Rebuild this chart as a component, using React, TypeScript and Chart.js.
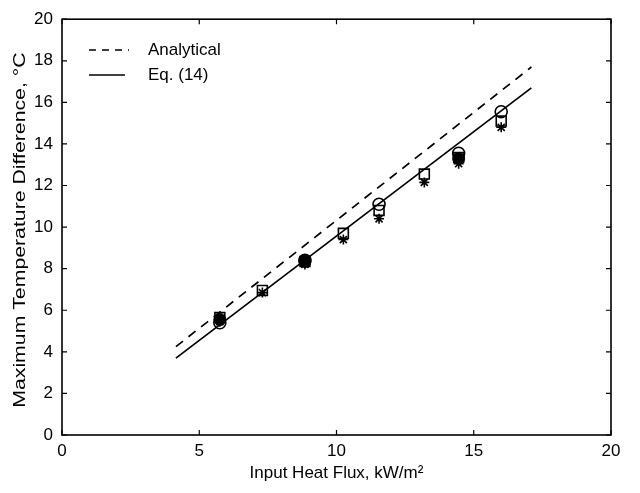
import { useEffect, useRef } from "react";
import { Chart, registerables } from "chart.js";

Chart.register(...registerables);

// ---- data ----
const squareX = [5.75, 7.3, 8.85, 10.25, 11.55, 13.2, 14.45, 16.0];
const squareY = [5.65, 6.95, 8.35, 9.7, 10.8, 12.55, 13.35, 15.1];
const starX = [5.75, 7.3, 8.85, 10.25, 11.55, 13.2, 14.45, 16.0];
const starY = [5.45, 6.85, 8.2, 9.4, 10.4, 12.15, 13.05, 14.8];
const circleX = [5.75, 8.85, 11.55, 14.45, 16.0];
const circleY = [5.4, 8.4, 11.1, 13.55, 15.55];
const filledX = [5.75, 8.85, 14.45];
const filledY = [5.55, 8.35, 13.3];
const analyticalX = [4.15, 17.1];
const analyticalY = [4.25, 17.7];
const eq14X = [4.15, 17.1];
const eq14Y = [3.7, 16.7];
const xTicks = [0, 5, 10, 15, 20];
const yTicks = [0, 2, 4, 6, 8, 10, 12, 14, 16, 18, 20];
const legendLabels = ["Analytical", "Eq. (14)"];
const xTitle = "Input Heat Flux, kW/m\u00B2";
const yTitle = "Maximum Temperature Difference, \u00B0C";

const FONT = "'Liberation Sans', Arial, Helvetica, sans-serif";

const pts = (xs: number[], ys: number[]) => xs.map((x, i) => ({ x, y: ys[i] }));

const framePlugin = {
  id: "matlabFrame",
  afterDraw(chart: any) {
    const { ctx, chartArea } = chart;
    const { left, right, top, bottom } = chartArea;
    const xs = chart.scales.x;
    const ys = chart.scales.y;
    ctx.save();
    ctx.strokeStyle = "#000";
    ctx.lineWidth = 1.6;
    ctx.strokeRect(left, top, right - left, bottom - top);
    ctx.lineWidth = 1.2;
    const tl = 5;
    ctx.beginPath();
    xTicks.forEach((v) => {
      const px = xs.getPixelForValue(v);
      ctx.moveTo(px, bottom);
      ctx.lineTo(px, bottom - tl);
      ctx.moveTo(px, top);
      ctx.lineTo(px, top + tl);
    });
    yTicks.forEach((v) => {
      const py = ys.getPixelForValue(v);
      ctx.moveTo(left, py);
      ctx.lineTo(left + tl, py);
      ctx.moveTo(right, py);
      ctx.lineTo(right - tl, py);
    });
    ctx.stroke();

    // y-axis title (the scanned original is stretched along the vertical)
    ctx.save();
    ctx.fillStyle = "#000";
    ctx.font = `17px ${FONT}`;
    ctx.textAlign = "center";
    ctx.textBaseline = "middle";
    ctx.translate(20, (top + bottom) / 2 + 3);
    ctx.rotate(-Math.PI / 2);
    ctx.scale(1.25, 1);
    ctx.fillText(yTitle, 0, 0);
    ctx.restore();

    // legend (MATLAB style, inside axes, no box)
    const lx0 = left + 27;
    const lx1 = left + 67;
    const tx = left + 86;
    const rows = [50, 75];
    ctx.font = `17px ${FONT}`;
    ctx.fillStyle = "#000";
    ctx.textBaseline = "middle";
    ctx.textAlign = "left";
    rows.forEach((y, i) => {
      ctx.beginPath();
      ctx.lineWidth = 1.6;
      ctx.setLineDash(i === 0 ? [7, 6] : []);
      ctx.moveTo(lx0, y);
      ctx.lineTo(i === 0 ? lx1 : lx1 - 4, y);
      ctx.stroke();
      ctx.setLineDash([]);
      ctx.fillText(legendLabels[i], tx, y);
    });
    ctx.restore();
  },
};

export default function App() {
  const ref = useRef<HTMLCanvasElement | null>(null);

  useEffect(() => {
    document.body.style.margin = "0";
    const canvas = ref.current;
    if (!canvas) return;
    const chart = new Chart(canvas, {
      type: "scatter",
      data: {
        datasets: [
          {
            label: legendLabels[0],
            data: pts(analyticalX, analyticalY),
            showLine: true,
            borderColor: "#000",
            borderWidth: 1.7,
            borderDash: [9, 7],
            pointRadius: 0,
            fill: false,
          },
          {
            label: legendLabels[1],
            data: pts(eq14X, eq14Y),
            showLine: true,
            borderColor: "#000",
            borderWidth: 1.7,
            pointRadius: 0,
            fill: false,
          },
          {
            label: "filled",
            data: pts(filledX, filledY),
            pointStyle: "circle",
            pointRadius: 6,
            backgroundColor: "#000",
            borderColor: "#000",
            borderWidth: 1,
          },
          {
            label: "circle",
            data: pts(circleX, circleY),
            pointStyle: "circle",
            pointRadius: 6,
            backgroundColor: "rgba(255,255,255,0)",
            borderColor: "#000",
            borderWidth: 1.6,
          },
          {
            label: "square",
            data: pts(squareX, squareY),
            pointStyle: "rect",
            pointRadius: 7,
            backgroundColor: "rgba(255,255,255,0)",
            borderColor: "#000",
            borderWidth: 1.6,
          },
          {
            label: "star",
            data: pts(starX, starY),
            pointStyle: "star",
            pointRadius: 5,
            backgroundColor: "#000",
            borderColor: "#000",
            borderWidth: 1.6,
          },
        ],
      },
      options: {
        animation: false,
        responsive: false,
        maintainAspectRatio: false,
        layout: { padding: { top: 15, right: 29, left: 0, bottom: 0 } },
        plugins: {
          legend: { display: false },
          tooltip: { enabled: false },
        },
        scales: {
          x: {
            type: "linear",
            min: 0,
            max: 20,
            afterBuildTicks: (s: any) => {
              s.ticks = xTicks.map((v) => ({ value: v }));
            },
            afterFit: (s: any) => {
              s.height = 58;
            },
            grid: { display: false, drawTicks: false },
            border: { display: false },
            ticks: {
              color: "#000",
              padding: 6,
              maxRotation: 0,
              font: { family: FONT, size: 17 },
            },
            title: {
              display: true,
              text: xTitle,
              color: "#000",
              font: { family: FONT, size: 17 },
              padding: { top: 2, bottom: 9 },
            },
          },
          y: {
            type: "linear",
            min: 0,
            max: 20,
            afterBuildTicks: (s: any) => {
              s.ticks = yTicks.map((v) => ({ value: v }));
            },
            afterFit: (s: any) => {
              s.width = 62;
            },
            grid: { display: false, drawTicks: false },
            border: { display: false },
            ticks: {
              color: "#000",
              padding: 9,
              font: { family: FONT, size: 17 },
            },
            title: { display: false },
          },
        },
      },
      plugins: [framePlugin],
    } as any);
    return () => chart.destroy();
  }, []);

  return (
    <div style={{ position: "fixed", left: 0, top: 0, width: 640, height: 493, background: "#fff" }}>
      <canvas ref={ref} width={640} height={493} style={{ width: 640, height: 493, display: "block" }} />
    </div>
  );
}
